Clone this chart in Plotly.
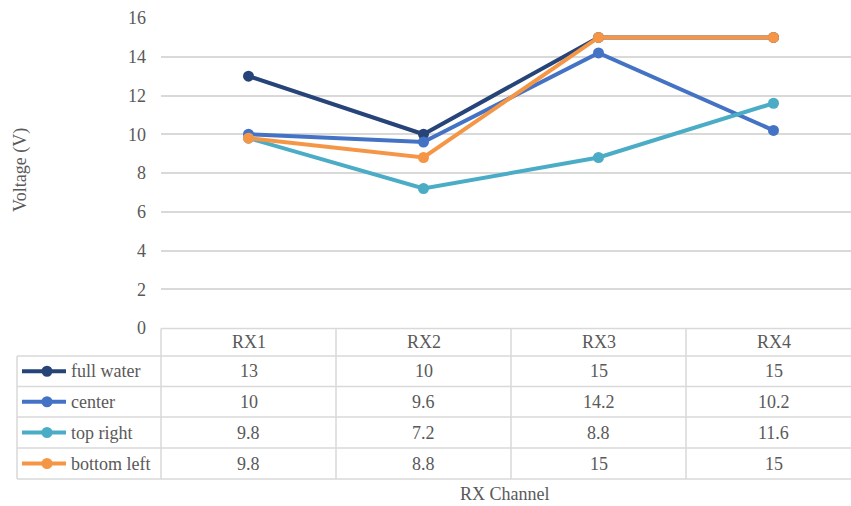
import plotly.graph_objects as go

# Data
channels = ["RX1", "RX2", "RX3", "RX4"]
full_water = [13, 10, 15, 15]
center = [10, 9.6, 14.2, 10.2]
top_right = [9.8, 7.2, 8.8, 11.6]
bottom_left = [9.8, 8.8, 15, 15]
y_ticks = [0, 2, 4, 6, 8, 10, 12, 14, 16]

series = [
    ("full water", full_water, "#264478"),
    ("center", center, "#4472C4"),
    ("top right", top_right, "#4BACC6"),
    ("bottom left", bottom_left, "#F59646"),
]

W, H = 851, 506
L, R, T, B = 161, 0, 18, 178
pw, ph = W - L - R, H - T - B
cat_w = 175.0

FONT = "Liberation Serif"
FS = 18
TXT = "#595959"
GRID = "#D9D9D9"


def px(x):
    return (x - L) / pw


def py(y):
    return (H - B - y) / ph


fig = go.Figure()
for name, vals, color in series:
    fig.add_trace(go.Scatter(
        x=list(range(len(channels))), y=vals, mode="lines+markers", name=name,
        line=dict(color=color, width=4),
        marker=dict(color=color, size=11),
        showlegend=False, hoverinfo="skip",
    ))

shapes = []
annotations = []

# data table geometry (pixels)
header_top, header_bot = 328.5, 356
row_edges = [356, 386.5, 417, 448, 479]
left_edge = 17
col_edges = [L + i * cat_w for i in range(len(channels) + 1)]


def hline(y, x0, x1):
    shapes.append(dict(type="line", xref="paper", yref="paper",
                       x0=px(x0), x1=px(x1), y0=py(y), y1=py(y),
                       line=dict(color=GRID, width=1.5), layer="below"))


def vline(x, y0, y1):
    shapes.append(dict(type="line", xref="paper", yref="paper",
                       x0=px(x), x1=px(x), y0=py(y0), y1=py(y1),
                       line=dict(color=GRID, width=1.5), layer="below"))


def label(x, y, text, xanchor="center", angle=0):
    annotations.append(dict(x=px(x), y=py(y), xref="paper", yref="paper",
                            text=text, showarrow=False, xanchor=xanchor,
                            yanchor="middle", textangle=angle,
                            font=dict(family=FONT, size=FS, color=TXT)))


hline(header_top, L, col_edges[-1])
for y in row_edges:
    hline(y, left_edge, col_edges[-1])
vline(left_edge, row_edges[0], row_edges[-1])
for x in col_edges:
    vline(x, header_top, row_edges[-1])

# header labels
for i, c in enumerate(channels):
    label(L + (i + 0.5) * cat_w, (header_top + header_bot) / 2, c)

# rows: legend key + values
for r, (name, vals, color) in enumerate(series):
    yc = (row_edges[r] + row_edges[r + 1]) / 2
    shapes.append(dict(type="line", xref="paper", yref="paper",
                       x0=px(22), x1=px(66), y0=py(yc), y1=py(yc),
                       line=dict(color=color, width=4)))
    shapes.append(dict(type="circle", xref="paper", yref="paper",
                       x0=px(41.5), x1=px(52.5), y0=py(yc + 5.5), y1=py(yc - 5.5),
                       fillcolor=color, line=dict(color=color, width=0)))
    label(69, yc, name, xanchor="left")
    for i, v in enumerate(vals):
        label(L + (i + 0.5) * cat_w, yc, f"{v:g}")

# axis titles
label(505, 494, "RX Channel")
label(20, 170, "Voltage (V)", angle=-90)

fig.update_layout(
    width=W, height=H,
    margin=dict(l=L, r=R, t=T, b=B),
    paper_bgcolor="white", plot_bgcolor="white",
    xaxis=dict(range=[-0.5, -0.5 + pw / cat_w], showticklabels=False,
               showgrid=False, zeroline=False, showline=False, fixedrange=True),
    yaxis=dict(range=[0, 16], tickvals=y_ticks, showgrid=True, gridcolor=GRID,
               gridwidth=1.5, zeroline=False, showline=False, ticks="",
               ticklabelstandoff=14,
               tickfont=dict(family=FONT, size=FS, color=TXT)),
    shapes=shapes, annotations=annotations,
)

fig.write_html("out.html")
